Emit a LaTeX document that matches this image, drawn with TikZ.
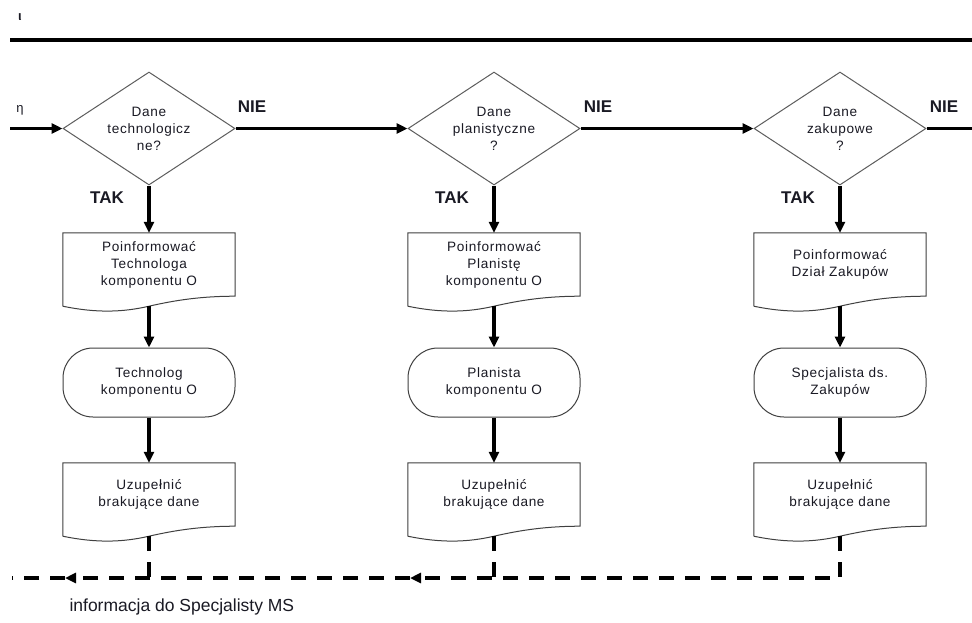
\documentclass[tikz,border=0pt]{standalone}
\usepackage{fontspec}
\setmainfont{Liberation Sans}
\newfontfamily\boxfont{Liberation Sans}[LetterSpace=5]
\usetikzlibrary{shapes.geometric,arrows.meta,calc}
\definecolor{txt}{HTML}{1A1A24}
\definecolor{edge}{HTML}{404040}
\tikzset{
  boxtext/.style={font=\boxfont\fontsize{13.6}{17}\selectfont, text=txt, align=center},
  decision/.style={boxtext, diamond, draw=edge!85, line width=1pt, minimum width=172pt, minimum height=113pt, inner sep=0pt, aspect=1.52},
  docnode/.style={boxtext, rectangle, minimum width=172pt, minimum height=63pt, inner sep=0pt},
  terminal/.style={boxtext, rectangle, rounded corners=30pt, draw=edge, line width=1pt, minimum width=172pt, minimum height=69pt, inner sep=0pt},
  docline/.style={draw=edge, line width=1pt},
  flow/.style={line width=3.5pt, -{Triangle[length=11pt,width=10pt]}},
  flowplain/.style={line width=3.5pt},
  dashflow/.style={line width=3.5pt, dash pattern=on 15pt off 11pt},
  dashtip/.style={dashflow, -{Triangle[length=11pt,width=10pt]}},
  yesno/.style={font=\bfseries\fontsize{17}{20}\selectfont, text=txt},
}
\newcommand\docoutline[1]{%
  \draw[docline] ($(#1.south west)+(0,10)$) -- (#1.north west) -- (#1.north east) -- (#1.south east)
    .. controls ($(#1.south east)+(-34,0)$) and ($(#1.south east)+(-60,4)$) .. ($(#1.south)+(0,10)$)
    .. controls ($(#1.south)+(-26,16)$) and ($(#1.south west)+(34,17)$) .. ($(#1.south west)+(0,10)$);
  \coordinate (#1b) at ($(#1.south)+(0,10)$);}
\begin{document}
\begin{tikzpicture}[x=1pt,y=-1pt]
\useasboundingbox (0,0) rectangle (972,622);
\fill[white] (0,0) rectangle (972,622);

% top rule and marks
\coordinate (ruleL) at (10,40);
\coordinate (ruleR) at (972,40);
\draw[line width=4pt] (ruleL) -- (ruleR);
\node[font=\bfseries\fontsize{13}{14}\selectfont, text=txt] (iota) at (20,17) {ι};
\node[font=\fontsize{13}{14}\selectfont, text=txt] (eta) at (20,110) {η};

% decisions
\node[decision] (q1) at (149,128.5) {Dane\\technologicz\\ne?};
\node[decision] (q2) at (494,128.5) {Dane\\planistyczne\\?};
\node[decision] (q3) at (840,128.5) {Dane\\zakupowe\\?};

% documents (top)
\node[docnode] (p1) at (149,264.5) {Poinformować\\Technologa\\komponentu O};
\node[docnode] (p2) at (494,264.5) {Poinformować\\Planistę\\komponentu O};
\node[docnode] (p3) at (840,264.5) {Poinformować\\Dział Zakupów};
\docoutline{p1}\docoutline{p2}\docoutline{p3}

% terminals
\node[terminal] (t1) at (149,382.5) {Technolog\\komponentu O};
\node[terminal] (t2) at (494,382.5) {Planista\\komponentu O};
\node[terminal] (t3) at (840,382.5) {Specjalista ds.\\Zakupów};

% documents (bottom)
\node[docnode] (u1) at (149,494.5) {Uzupełnić\\brakujące dane};
\node[docnode] (u2) at (494,494.5) {Uzupełnić\\brakujące dane};
\node[docnode] (u3) at (840,494.5) {Uzupełnić\\brakujące dane};
\docoutline{u1}\docoutline{u2}\docoutline{u3}

% horizontal flow
\coordinate (in) at (10,128.5);
\coordinate (out) at (972,128.5);
\draw[flow] (in) -- (q1.west);
\draw[flow] (q1.east) -- (q2.west);
\draw[flow] (q2.east) -- (q3.west);
\draw[flowplain] (q3.east) -- (out);
\node[yesno] (nie1) at (252,107) {NIE};
\node[yesno] (nie2) at (598,107) {NIE};
\node[yesno] (nie3) at (944,107) {NIE};

% vertical flow
\foreach \i in {1,2,3}{
  \draw[flow] (q\i.south) -- (p\i.north);
  \draw[flow] (p\i b) -- (t\i.north);
  \draw[flow] (t\i.south) -- (u\i.north);
}
\node[yesno] (tak1) at (107,198) {TAK};
\node[yesno] (tak2) at (452,198) {TAK};
\node[yesno] (tak3) at (798,198) {TAK};

% dashed return
\coordinate (j1) at (149,578);
\coordinate (j2) at (494,578);
\coordinate (j3) at (840,578);
\coordinate (a2) at (410,578);
\coordinate (a1) at (65,578);
\coordinate (e) at (12,578);
\draw[dashtip] (u3b) -- (j3) -- (a2);
\draw[dashflow] (u2b) -- (j2);
\draw[dashtip] (a2) -- (a1);
\draw[dashflow] (u1b) -- (j1);
\draw[dashflow] (a1) -- (e);

\node[font=\fontsize{17.5}{20}\selectfont, text=txt, anchor=west] (info) at (66,607) {informacja do Specjalisty MS};
\end{tikzpicture}
\end{document}
